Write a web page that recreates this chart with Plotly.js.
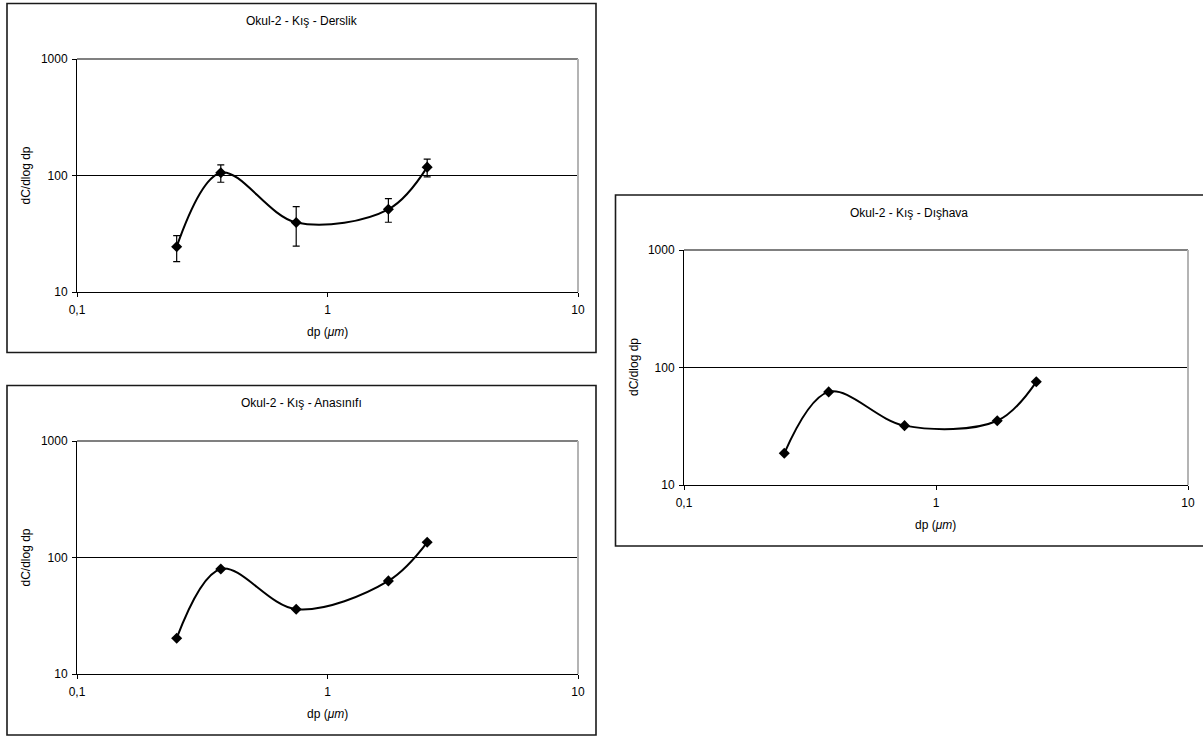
<!DOCTYPE html>
<html>
<head>
<meta charset="utf-8">
<script src="https://cdn.plot.ly/plotly-3.0.1.min.js"></script>
<style>
  html, body { margin: 0; padding: 0; background: #fff; }
  #chart { width: 1203px; height: 738px; }
</style>
</head>
<body>
<div id="chart"></div>
<script>
// Particle diameters (µm) shared by all three sampling sites
const dp = [0.25, 0.375, 0.75, 1.75, 2.5];

// dC/dlog dp — classroom (Derslik), with upper / lower error limits
const derslik = [24.5, 105.7, 39.5, 51.3, 118];
const derslikUpper = [30.5, 123.5, 54, 63.3, 138];
const derslikLower = [18.2, 87.5, 24.8, 39.7, 97.2];

// dC/dlog dp — kindergarten (Anasınıfı)
const anasinifi = [20.3, 79.7, 36, 63, 135];

// dC/dlog dp — outdoor air (Dışhava)
const dishava = [18.6, 62, 32, 35.2, 75.5];

// Axis ticks
const xTickVals = [0.1, 1, 10];
const xTickText = ['0,1', '1', '10'];
const yTickVals = [10, 100, 1000];
const yTickText = ['10', '100', '1000'];

const panelTitles = ['Okul-2 - Kış - Derslik', 'Okul-2 - Kış - Anasınıfı', 'Okul-2 - Kış - Dışhava'];
const xTitle = 'dp (<i>μm</i>)';
const yTitle = 'dC/dlog dp';

const W = 1203, H = 738;
const FONT = 'Liberation Sans, Arial, sans-serif';
const FS = 12;

// pixel helpers -> paper fractions
const px = v => v / W;
const py = v => 1 - v / H;

// Frame boxes and plot areas (pixels)
const panels = [
  { box: [7, 3.5, 596, 352.5],   plot: [77, 59, 578, 292] },
  { box: [7, 385.5, 596, 735],   plot: [77, 441, 578, 674] },
  { box: [615.5, 195, 1206, 546], plot: [684, 250, 1188, 485] }
];

const series = [derslik, anasinifi, dishava];

const traces = series.map((vals, i) => {
  const t = {
    x: dp,
    y: vals,
    xaxis: i === 0 ? 'x' : 'x' + (i + 1),
    yaxis: i === 0 ? 'y' : 'y' + (i + 1),
    type: 'scatter',
    mode: 'lines+markers',
    line: { color: '#000', width: 2, shape: 'spline', smoothing: 1 },
    marker: { symbol: 'diamond', size: 8.5, color: '#000' },
    hoverinfo: 'x+y',
    showlegend: false
  };
  if (i === 0) {
    t.error_y = {
      type: 'data',
      symmetric: false,
      array: derslikUpper.map((u, k) => u - derslik[k]),
      arrayminus: derslikLower.map((l, k) => derslik[k] - l),
      color: '#000',
      thickness: 1.2,
      width: 3.5
    };
  }
  return t;
});

const layout = {
  width: W,
  height: H,
  margin: { l: 0, r: 0, t: 0, b: 0 },
  paper_bgcolor: '#fff',
  plot_bgcolor: '#fff',
  font: { family: FONT, size: FS, color: '#000' },
  showlegend: false,
  shapes: [],
  annotations: []
};

panels.forEach((p, i) => {
  const suf = i === 0 ? '' : String(i + 1);
  const [l, t, r, b] = p.plot;
  layout['xaxis' + suf] = {
    type: 'log',
    range: [-1, 1],
    domain: [px(l), px(r)],
    anchor: 'y' + suf,
    tickvals: xTickVals,
    ticktext: xTickText,
    ticks: 'outside',
    ticklen: 4,
    tickwidth: 1,
    tickcolor: '#000',
    ticklabelstandoff: 3,
    showline: true,
    linecolor: '#000',
    linewidth: 1,
    showgrid: false,
    zeroline: false,
    tickfont: { family: FONT, size: FS, color: '#000' },
    fixedrange: true
  };
  layout['yaxis' + suf] = {
    type: 'log',
    range: [1, 3],
    domain: [py(b), py(t)],
    anchor: 'x' + suf,
    tickvals: yTickVals,
    ticktext: yTickText,
    ticks: 'outside',
    ticklen: 4,
    tickwidth: 1,
    tickcolor: '#000',
    ticklabelstandoff: 2,
    showline: true,
    linecolor: '#000',
    linewidth: 1,
    showgrid: true,
    gridcolor: '#000',
    gridwidth: 1,
    zeroline: false,
    tickfont: { family: FONT, size: FS, color: '#000' },
    fixedrange: true
  };

  // plot-area border (top and right)
  layout.shapes.push({
    type: 'line', xref: 'x' + suf + ' domain', yref: 'y' + suf + ' domain',
    x0: 0, x1: 1, y0: 1, y1: 1, line: { color: '#808080', width: 2 }
  });
  layout.shapes.push({
    type: 'line', xref: 'x' + suf + ' domain', yref: 'y' + suf + ' domain',
    x0: 1, x1: 1, y0: 0, y1: 1, line: { color: '#b4b4b4', width: 2 }
  });

  // chart frame
  const [bl, bt, br, bb] = p.box;
  layout.shapes.push({
    type: 'rect', xref: 'paper', yref: 'paper',
    x0: px(bl), x1: px(br), y0: py(bb), y1: py(bt),
    line: { color: '#1a1a1a', width: 1.6 }
  });

  // panel title
  layout.annotations.push({
    text: panelTitles[i], xref: 'paper', yref: 'paper',
    x: px((bl + Math.min(br, W)) / 2), y: py(bt + 17.5),
    xanchor: 'center', yanchor: 'middle', showarrow: false,
    font: { family: FONT, size: FS, color: '#000' }
  });
  // x-axis title
  layout.annotations.push({
    text: xTitle, xref: 'paper', yref: 'paper',
    x: px((l + r) / 2), y: py(b + 39.5),
    xanchor: 'center', yanchor: 'middle', showarrow: false,
    font: { family: FONT, size: FS, color: '#000' }
  });
  // y-axis title
  layout.annotations.push({
    text: yTitle, xref: 'paper', yref: 'paper',
    x: px(bl + 18), y: py((t + b) / 2),
    xanchor: 'center', yanchor: 'middle', showarrow: false, textangle: -90,
    font: { family: FONT, size: FS, color: '#000' }
  });
});

Plotly.newPlot('chart', traces, layout, { displayModeBar: false, staticPlot: true });
</script>
</body>
</html>
